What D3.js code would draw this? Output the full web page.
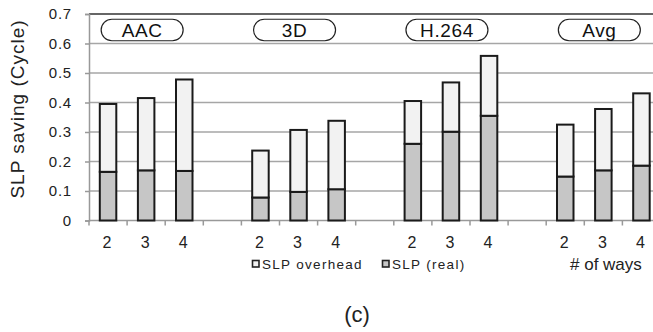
<!DOCTYPE html>
<html>
<head>
<meta charset="utf-8">
<script src="https://cdn.jsdelivr.net/npm/d3@7"></script>
<style>
  body { margin: 0; background: #fff; }
  svg { display: block; font-family: "Liberation Sans", Arial, sans-serif; }
</style>
</head>
<body>
<div id="chart"></div>
<script>
// Benchmarks and way counts
const groups = ['AAC', '3D', 'H.264', 'Avg'];
const ways = ['2', '3', '4'];

// SLP (real) saving, per group, per way count
const slpReal = [
    [0.165, 0.170, 0.168],
    [0.078, 0.097, 0.106],
    [0.260, 0.301, 0.355],
    [0.149, 0.170, 0.186]
];
// SLP overhead (stacked on top of real)
const slpOverhead = [
    [0.230, 0.245, 0.310],
    [0.159, 0.210, 0.232],
    [0.145, 0.167, 0.203],
    [0.176, 0.208, 0.245]
];
const yTicks = [0, 0.1, 0.2, 0.3, 0.4, 0.5, 0.6, 0.7];

const width = 653, height = 332;
const margin = { left: 89, top: 14, bottom: 111.5 };
const plotBottom = height - margin.bottom;

const svg = d3.select('#chart')
    .append('svg')
    .attr('width', width)
    .attr('height', height);

// Category slots: 3 bars per group, blank slot between groups
const slots = [];
groups.forEach((g, gi) => {
    ways.forEach((w, wi) => slots.push({ key: g + '-' + w, group: gi, way: wi, label: w }));
    if (gi < groups.length - 1) slots.push({ key: 'gap' + gi, blank: true });
});

const x = d3.scaleBand()
    .domain(slots.map(d => d.key))
    .range([margin.left, margin.left + 38.1 * slots.length])
    .paddingInner(0)
    .paddingOuter(0);

const y = d3.scaleLinear()
    .domain([0, 0.7])
    .range([plotBottom, margin.top]);

// Grid lines
svg.append('g')
    .selectAll('line')
    .data(yTicks.slice(1, -1))
    .enter()
    .append('line')
    .attr('x1', margin.left)
    .attr('x2', width)
    .attr('y1', d => y(d))
    .attr('y2', d => y(d))
    .attr('stroke', '#a6a6a6')
    .attr('stroke-width', 1.5);

// Top border
svg.append('line')
    .attr('x1', margin.left)
    .attr('x2', width)
    .attr('y1', y(0.7))
    .attr('y2', y(0.7))
    .attr('stroke', '#333')
    .attr('stroke-width', 1.6);

// Y axis
const yAxis = svg.append('g')
    .attr('transform', `translate(${margin.left},0)`)
    .call(d3.axisLeft(y).tickValues(yTicks).tickSize(4).tickPadding(13)
        .tickFormat(d => d === 0 ? '0' : d3.format('.1f')(d)));
yAxis.select('.domain').attr('stroke', '#999').attr('stroke-width', 1.5);
yAxis.selectAll('.tick line').attr('stroke', '#999').attr('stroke-width', 1.5);
yAxis.selectAll('.tick text')
    .style('font-size', '15px')
    .style('letter-spacing', '0.8px')
    .style('fill', '#222')
    .style('font-family', '"Liberation Sans", Arial, sans-serif');

// X axis (ticks at slot boundaries)
svg.append('line')
    .attr('x1', margin.left)
    .attr('x2', width)
    .attr('y1', plotBottom)
    .attr('y2', plotBottom)
    .attr('stroke', '#999')
    .attr('stroke-width', 1.5);

svg.append('g')
    .selectAll('line')
    .data(slots)
    .enter()
    .append('line')
    .attr('x1', d => x(d.key))
    .attr('x2', d => x(d.key))
    .attr('y1', plotBottom)
    .attr('y2', plotBottom + 5)
    .attr('stroke', '#999')
    .attr('stroke-width', 1.5);

svg.append('g')
    .selectAll('text')
    .data(slots.filter(d => !d.blank))
    .enter()
    .append('text')
    .attr('x', d => x(d.key) + x.bandwidth() / 2 - 1)
    .attr('y', plotBottom + 27)
    .attr('text-anchor', 'middle')
    .style('font-size', '16px')
    .style('fill', '#222')
    .text(d => d.label);

// Bars
const barW = 16.5;
const bars = svg.append('g')
    .selectAll('g')
    .data(slots.filter(d => !d.blank))
    .enter()
    .append('g');

bars.append('rect')
    .attr('x', d => x(d.key) + (x.bandwidth() - barW) / 2)
    .attr('width', barW)
    .attr('y', d => y(slpReal[d.group][d.way]))
    .attr('height', d => plotBottom - y(slpReal[d.group][d.way]))
    .attr('fill', '#c6c6c6')
    .attr('stroke', '#1a1a1a')
    .attr('stroke-width', 2);

bars.append('rect')
    .attr('x', d => x(d.key) + (x.bandwidth() - barW) / 2)
    .attr('width', barW)
    .attr('y', d => y(slpReal[d.group][d.way] + slpOverhead[d.group][d.way]))
    .attr('height', d => y(slpReal[d.group][d.way]) - y(slpReal[d.group][d.way] + slpOverhead[d.group][d.way]))
    .attr('fill', '#f2f2f2')
    .attr('stroke', '#1a1a1a')
    .attr('stroke-width', 2);

// Group label pills
const pillW = 82, pillH = 21.5;
const pills = svg.append('g')
    .selectAll('g')
    .data(groups)
    .enter()
    .append('g')
    .attr('transform', (g, gi) => {
        const cx = x(g + '-3') + x.bandwidth() / 2 - 4;
        return `translate(${cx},${30})`;
    });

pills.append('rect')
    .attr('x', -pillW / 2)
    .attr('y', -pillH / 2)
    .attr('width', pillW)
    .attr('height', pillH)
    .attr('rx', 10.75)
    .attr('fill', '#fff')
    .attr('stroke', '#222')
    .attr('stroke-width', 1.2);

pills.append('text')
    .attr('text-anchor', 'middle')
    .attr('y', 6.5)
    .style('font-size', '19px')
    .style('letter-spacing', '0.6px')
    .style('fill', '#111')
    .text(d => d);

// Y axis title
svg.append('text')
    .attr('transform', `translate(24,109) rotate(-90)`)
    .attr('text-anchor', 'middle')
    .style('font-size', '19px')
    .style('letter-spacing', '1px')
    .style('fill', '#222')
    .text('SLP saving (Cycle)');

// Legend
const legend = [
    { label: 'SLP overhead', fill: '#f2f2f2', x: 252.5 },
    { label: 'SLP (real)', fill: '#c6c6c6', x: 382.5 }
];
const lg = svg.append('g')
    .selectAll('g')
    .data(legend)
    .enter()
    .append('g')
    .attr('transform', d => `translate(${d.x},${260.5})`);

lg.append('rect')
    .attr('width', 6.5)
    .attr('height', 6.5)
    .attr('fill', d => d.fill)
    .attr('stroke', '#222')
    .attr('stroke-width', 1.6);

lg.append('text')
    .attr('x', 9.5)
    .attr('y', 8)
    .style('font-size', '13.5px')
    .style('letter-spacing', '1.3px')
    .style('fill', '#222')
    .text(d => d.label);

svg.append('text')
    .attr('x', 570)
    .attr('y', 270)
    .style('font-size', '17px')
    .style('fill', '#222')
    .text('# of ways');

svg.append('text')
    .attr('x', 357)
    .attr('y', 322)
    .attr('text-anchor', 'middle')
    .style('font-size', '22px')
    .style('fill', '#222')
    .text('(c)');
</script>
</body>
</html>
